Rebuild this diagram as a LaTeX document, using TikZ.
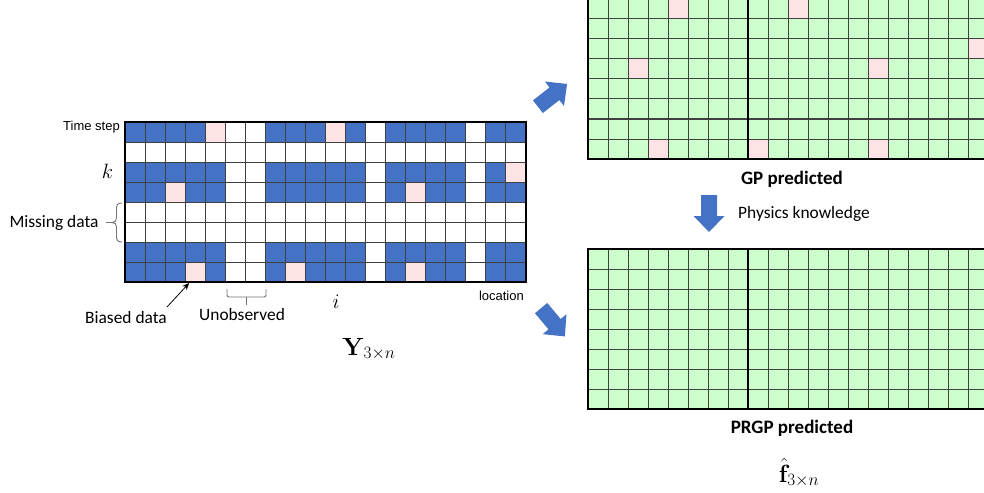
\documentclass[tikz,border=0pt]{standalone}
\usepackage[no-math]{fontspec}
\setmainfont{Carlito}
\newfontfamily\arialf{Liberation Sans}
\DeclareMathSizes{20}{20}{14}{10}
\DeclareMathSizes{23}{23}{17}{12}
\usetikzlibrary{arrows.meta}
\definecolor{cblue}{HTML}{4472C4}
\definecolor{cpink}{HTML}{FDE3E3}
\definecolor{cgreen}{HTML}{CCFFCC}
\begin{document}
\begin{tikzpicture}[x=1pt,y=-1pt,
  gridline/.style={line width=1pt, draw=black!75},
  midline/.style={line width=1.2pt, draw=black},
  border/.style={line width=2.6pt, draw=black},
  lbl/.style={font=\fontsize{17.4}{20}\selectfont, inner sep=0pt},
  smalllbl/.style={font=\arialf\fontsize{13}{15}\selectfont, inner sep=0pt},
  ttl/.style={font=\bfseries\fontsize{19}{22}\selectfont, inner sep=0pt},
  mth/.style={font=\fontsize{20}{24}\selectfont, inner sep=0pt},
  bigmth/.style={font=\fontsize{23}{27}\selectfont, inner sep=0pt},
  bracegray/.style={draw=black!55, line width=0.9pt},
  blockarrow/.pic={\fill[cblue] (0,-8) -- (21,-8) -- (21,-15.5) -- (37,0) -- (21,15.5) -- (21,8) -- (0,8) -- cycle;}
]
\clip (0,0) rectangle (984,492);

% ---------------- left observation grid ----------------
\begin{scope}[shift={(125,122)}, x=20.05pt, y=-20pt]
  \foreach \r in {0,2,3,6,7} {
    \foreach \a/\b in {0/5, 7/12, 13/17, 18/20}
      \fill[cblue] (\a,\r) rectangle (\b,\r+1);
  }
  \foreach \r/\c in {0/4,0/10,2/19,3/2,3/14,7/3,7/8,7/14}
    \fill[cpink] (\c,\r) rectangle (\c+1,\r+1);
  \foreach \c in {1,...,19} \draw[gridline] (\c,0) -- (\c,8);
  \foreach \r in {1,...,7} \draw[gridline] (0,\r) -- (20,\r);
  \draw[border] (0,0) rectangle (20,8);
  \coordinate (biasTip) at (3.2,8.05);
\end{scope}

% ---------------- top right (GP predicted) ----------------
\begin{scope}[shift={(588,-1)}, x=20pt, y=-20pt]
  \fill[cgreen] (0,0) rectangle (20,8);
  \foreach \r/\c in {0/4,0/10,2/19,3/2,3/14,7/3,7/8,7/14}
    \fill[cpink] (\c,\r) rectangle (\c+1,\r+1);
  \foreach \c in {1,...,19} \draw[gridline] (\c,0) -- (\c,8);
  \foreach \r in {1,...,7} \draw[gridline] (0,\r) -- (20,\r);
  \draw[midline] (8,0) -- (8,8);
  \draw[border] (0,0) rectangle (20,8);
\end{scope}

% ---------------- bottom right (PRGP predicted) ----------------
\begin{scope}[shift={(588,249)}, x=20pt, y=-20pt]
  \fill[cgreen] (0,0) rectangle (20,8);
  \foreach \c in {1,...,19} \draw[gridline] (\c,0) -- (\c,8);
  \foreach \r in {1,...,7} \draw[gridline] (0,\r) -- (20,\r);
  \draw[midline] (8,0) -- (8,8);
  \draw[border] (0,0) rectangle (20,8);
\end{scope}

% ---------------- labels ----------------
\node[smalllbl, anchor=base west] (timestep) at (63,130.7) {Time step};
\node[mth, anchor=base] (klbl) at (107.5,178.3) {$k$};
\node[lbl, anchor=base west] (missing) at (9.3,227.3) {Missing data};
\node[lbl, anchor=base west] (biased) at (85,323.3) {Biased data};
\node[lbl, anchor=base west] (unobs) at (199,320) {Unobserved};
\node[mth, anchor=base] (ilbl) at (336,308.3) {$i$};
\node[smalllbl, anchor=base east] (loc) at (524,300) {location};
\node[bigmth, anchor=base] (ylbl) at (369,355) {$\mathbf{Y}_{3\times n}$};
\node[ttl, anchor=base] (gp) at (792,184) {GP predicted};
\node[lbl, anchor=base west] (phys) at (738,218.3) {Physics knowledge};
\node[ttl, anchor=base] (prgp) at (792,433) {PRGP predicted};
\node[bigmth, anchor=base] (flbl) at (799,482) {$\hat{\mathbf{f}}_{3\times n}$};

% ---------------- braces and pointer ----------------
\draw[bracegray] (122,203) .. controls (117.5,203) and (116.5,205) .. (116.5,209) -- (116.5,218)
  .. controls (116.5,221) and (115,222.5) .. (112,222.5)
  .. controls (115,222.5) and (116.5,224) .. (116.5,227) -- (116.5,236)
  .. controls (116.5,240) and (117.5,242) .. (122,242);
\draw[bracegray] (112,222.5) -- (106,222.5);

\draw[bracegray, rounded corners=2pt] (227,289) -- (227,297) -- (266,297) -- (266,289);
\draw[bracegray] (246.5,297) -- (246.5,305);

\coordinate (biasStart) at (167,307);
\draw[line width=0.8pt, -{Stealth[length=7pt,width=6pt]}] (biasStart) -- (biasTip);

% ---------------- block arrows ----------------
\pic[rotate=38] (arrowUp) at (537.9,106.7) {blockarrow};
\pic[rotate=-50] (arrowDown) at (541.1,308.1) {blockarrow};
\pic[rotate=-90] (arrowPhys) at (709,195) {blockarrow};
\end{tikzpicture}
\end{document}
